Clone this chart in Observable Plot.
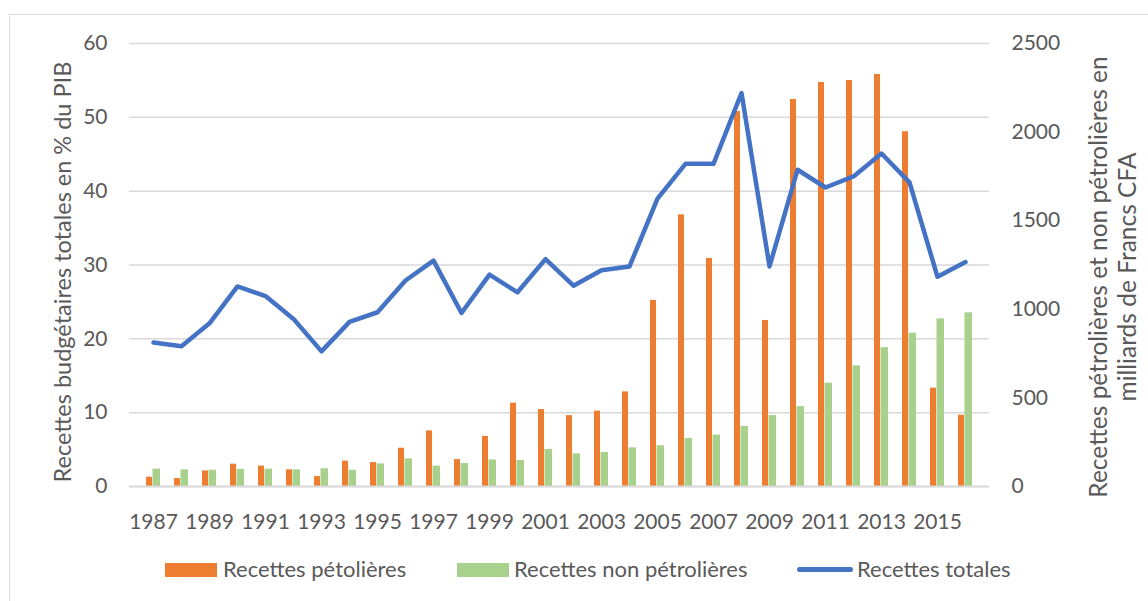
<!DOCTYPE html>
<html>
<head>
<meta charset="utf-8">
<script src="https://cdn.jsdelivr.net/npm/d3@7"></script>
<script src="https://cdn.jsdelivr.net/npm/@observablehq/plot@0.6"></script>
<style>
  html, body { margin: 0; padding: 0; background: #fff; }
  #wrap { position: relative; width: 1148px; height: 601px; overflow: hidden; font-family: Lato, sans-serif; color: #595959; }
  #frame { position: absolute; left: 9px; top: 14px; width: 1200px; height: 700px; border: 1.5px solid #D9D9D9; box-sizing: border-box; }
  #chart { position: absolute; left: 0; top: 0; }
  .ytitle { position: absolute; white-space: nowrap; line-height: 29px; text-align: center; transform: translate(-50%, -50%) rotate(-90deg); }
  .leg { position: absolute; font-size: 22px; line-height: 26px; white-space: nowrap; }
  .sw { position: absolute; }
</style>
</head>
<body>
<div id="wrap">
  <div id="frame"></div>
  <div id="chart"></div>
  <div class="ytitle" style="left:62px; top:272px; font-size:23.5px;">Recettes budgétaires totales en % du PIB</div>
  <div class="ytitle" style="left:1112px; top:277px; font-size:24.5px;">Recettes pétrolières et non pétrolières en<br>milliards de Francs CFA</div>
  <div class="sw" style="left:165px; top:563px; width:52px; height:14px; background:#ED7D31;"></div>
  <div class="leg" style="left:223px; top:556px;">Recettes pétolières</div>
  <div class="sw" style="left:457px; top:563px; width:52px; height:14px; background:#A9D18E;"></div>
  <div class="leg" style="left:514px; top:556px;">Recettes non pétrolières</div>
  <div class="sw" style="left:797px; top:567px; width:56px; height:5px; border-radius:3px; background:#4472C4;"></div>
  <div class="leg" style="left:857px; top:556px;">Recettes totales</div>
</div>
<script>
const years = [1987, 1988, 1989, 1990, 1991, 1992, 1993, 1994, 1995, 1996,
               1997, 1998, 1999, 2000, 2001, 2002, 2003, 2004, 2005, 2006,
               2007, 2008, 2009, 2010, 2011, 2012, 2013, 2014, 2015, 2016];
// Recettes pétrolières (milliards FCFA, right axis)
const petrol = [52, 45, 88, 126, 115, 94, 56, 143, 135, 216,
                314, 152, 282, 470, 434, 400, 425, 534, 1050, 1533,
                1287, 2116, 937, 2184, 2280, 2291, 2325, 2002, 555, 402];
// Recettes non pétrolières (milliards FCFA, right axis)
const nonPetrol = [98, 94, 92, 96, 98, 94, 100, 92, 128, 156,
                   115, 130, 150, 147, 209, 184, 192, 218, 230, 271,
                   290, 339, 400, 451, 583, 681, 784, 865, 946, 980];
// Recettes totales (% du PIB, left axis)
const total = [19.5, 19.0, 22.1, 27.1, 25.8, 22.7, 18.3, 22.3, 23.6, 27.9,
               30.6, 23.5, 28.7, 26.3, 30.8, 27.2, 29.3, 29.8, 39.0, 43.7,
               43.7, 53.3, 29.8, 42.9, 40.5, 42.0, 45.1, 41.2, 28.4, 30.4];
const leftTicks = [0, 10, 20, 30, 40, 50, 60];
const rightTicks = [0, 500, 1000, 1500, 2000, 2500];
const xTicks = [1987, 1989, 1991, 1993, 1995, 1997, 1999, 2001, 2003, 2005, 2007, 2009, 2011, 2013, 2015];

const k = 60 / 2500; // right-axis units -> left-axis units
const rows = years.map((y, i) => ({
  year: y,
  petrol: petrol[i] * k,
  nonPetrol: nonPetrol[i] * k,
  total: total[i]
}));

const chart = Plot.plot({
  width: 1148,
  height: 560,
  marginLeft: 129,
  marginRight: 159,
  marginTop: 43,
  marginBottom: 74,
  style: { fontFamily: "Lato, sans-serif", fontSize: "21px", color: "#595959", background: "transparent" },
  x: { type: "band", domain: years, paddingInner: 0.495, paddingOuter: 0.2475 },
  y: { domain: [0, 60] },
  marks: [
    Plot.gridY(leftTicks, { stroke: "#D9D9D9", strokeOpacity: 1, strokeWidth: 1.5 }),
    Plot.barY(rows, { x: "year", y: "petrol", fill: "#ED7D31", insetRight: 8 }),
    Plot.barY(rows, { x: "year", y: "nonPetrol", fill: "#A9D18E", insetLeft: 6.5 }),
    Plot.ruleY([0], { stroke: "#D9D9D9", strokeWidth: 2 }),
    Plot.line(rows, { x: "year", y: "total", stroke: "#4472C4", strokeWidth: 4.5, strokeLinejoin: "round", strokeLinecap: "round" }),
    Plot.axisX(xTicks, { tickSize: 0, tickPadding: 28, fontSize: 21, label: null, tickFormat: (d) => String(d) }),
    Plot.axisY(leftTicks, { anchor: "left", tickSize: 0, tickPadding: 22, fontSize: 21, label: null }),
    Plot.axisY(rightTicks.map(v => v * k), { anchor: "right", tickSize: 0, tickPadding: 22, fontSize: 21, label: null,
      tickFormat: (d) => String(Math.round(d / k)) })
  ]
});
document.getElementById("chart").appendChild(chart);
</script>
</body>
</html>
